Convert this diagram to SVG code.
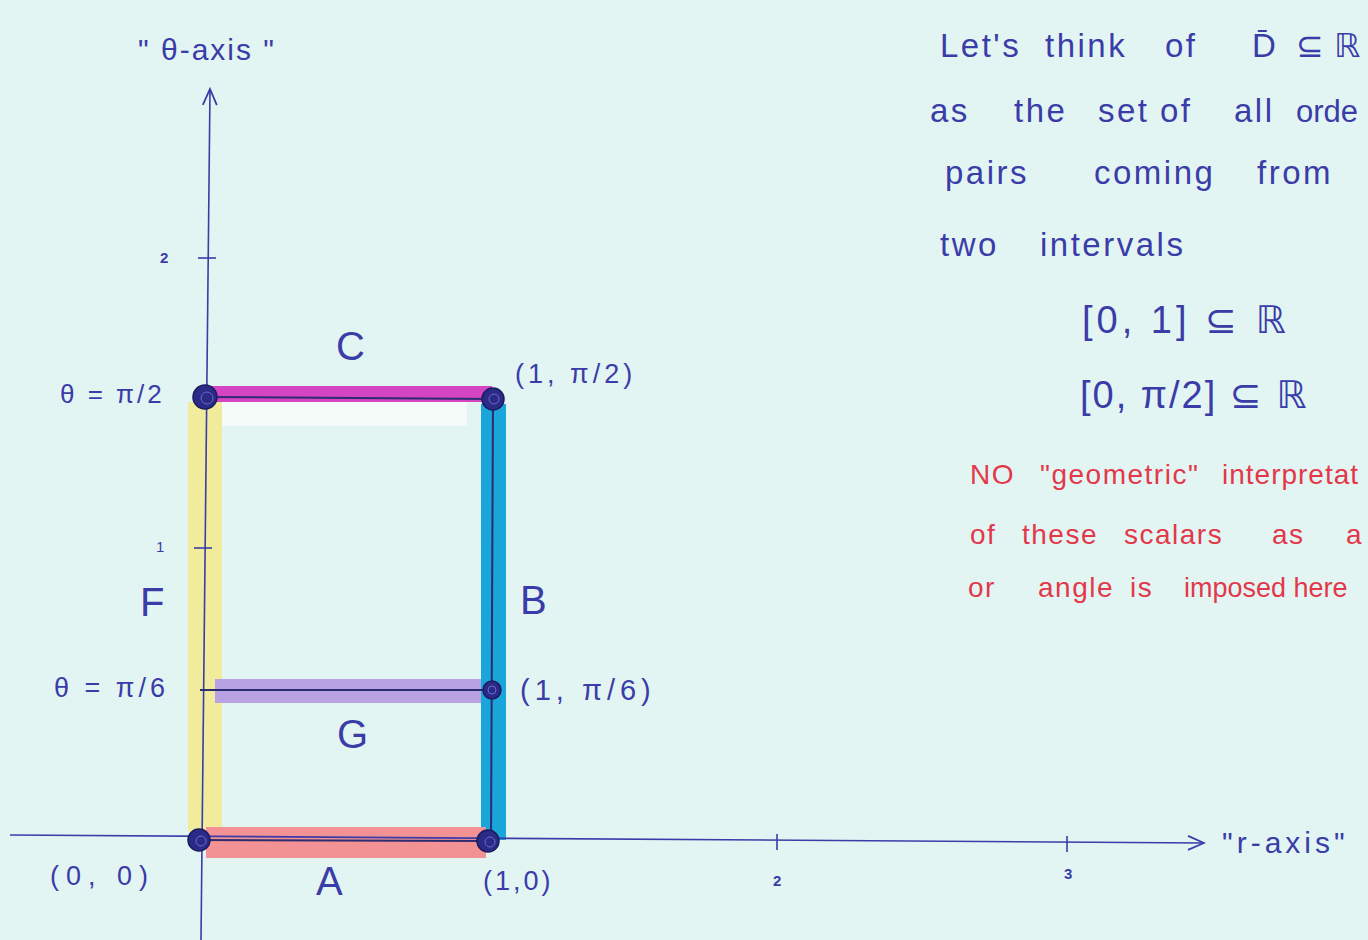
<svg xmlns="http://www.w3.org/2000/svg" width="1368" height="940" viewBox="0 0 1368 940">
<defs>
<style>
.ink{fill:#3a3ca8;font-family:"Liberation Sans","DejaVu Sans",sans-serif;}
.red{fill:#e2384a;font-family:"Liberation Sans","DejaVu Sans",sans-serif;}
.ax{stroke:#3a3ca8;stroke-width:1.6;fill:none;}
.thin{stroke:#2c2c70;stroke-width:2;fill:none;}
.dot{fill:#2b2a86;stroke:#1c1c60;stroke-width:1.5;}
.dotin{fill:none;stroke:#6a6ad0;stroke-width:1;}
</style>
<marker id="arr" viewBox="0 0 20 20" refX="18" refY="10" markerWidth="20" markerHeight="20" markerUnits="userSpaceOnUse" orient="auto">
<path d="M2,3 L18,10 L2,17" fill="none" stroke="#3a3ca8" stroke-width="1.8"/>
</marker>
</defs>
<rect width="1368" height="940" fill="#e3f5f3"/>

<g id="bands">
<rect x="209" y="402" width="258" height="24" fill="#f4fbf8"/>
<rect x="188" y="402" width="34" height="430" fill="#f1ec9c"/>
<rect x="204" y="386" width="288" height="16" fill="#d445c4"/>
<rect x="481" y="404" width="25" height="436" fill="#1aa6da"/>
<rect x="215" y="679" width="266" height="24" fill="#b9a2e2"/>
<rect x="206" y="827" width="280" height="31" fill="#f29294"/>
</g>

<g id="connectors">
<line class="ax" x1="201" y1="940" x2="210" y2="89" marker-end="url(#arr)"/>
<line class="ax" x1="10" y1="835" x2="1204" y2="843" marker-end="url(#arr)"/>
<line class="ax" x1="198" y1="258" x2="216" y2="258"/>
<line class="ax" x1="194" y1="548" x2="212" y2="548"/>
<line class="ax" x1="777" y1="834" x2="777" y2="850"/>
<line class="ax" x1="1067" y1="836" x2="1067" y2="852"/>
<line class="thin" x1="205" y1="397" x2="493" y2="399"/>
<line class="thin" x1="200" y1="690" x2="492" y2="690"/>
<line class="thin" x1="199" y1="840" x2="488" y2="841"/>
<line class="thin" x1="493" y1="399" x2="491" y2="841"/>
</g>

<g id="p00"><circle class="dot" cx="199" cy="840" r="11"/><circle class="dotin" cx="201" cy="841" r="5"/></g>
<g id="p10"><circle class="dot" cx="488" cy="841" r="11"/><circle class="dotin" cx="490" cy="842" r="5"/></g>
<g id="p0pi2"><circle class="dot" cx="205" cy="397" r="12"/><circle class="dotin" cx="207" cy="398" r="6"/></g>
<g id="p1pi2"><circle class="dot" cx="493" cy="399" r="11"/><circle class="dotin" cx="494" cy="399" r="5"/></g>
<g id="p1pi6"><circle class="dot" cx="492" cy="690" r="9"/><circle class="dotin" cx="492" cy="690" r="4"/></g>

<g id="axis-labels">
<text class="ink" x="138" y="60" font-size="30" letter-spacing="2">" θ-axis "</text>
<text class="ink" x="1222" y="853" font-size="30" letter-spacing="4">"r-axis"</text>
<text class="ink" x="160" y="263" font-size="15" font-weight="bold">2</text>
<text class="ink" x="156" y="552" font-size="15">1</text>
<text class="ink" x="773" y="886" font-size="15" font-weight="bold">2</text>
<text class="ink" x="1064" y="879" font-size="15" font-weight="bold">3</text>
</g>

<g id="point-labels">
<text class="ink" x="60" y="403" font-size="26" letter-spacing="3">θ = π/2</text>
<text class="ink" x="54" y="697" font-size="27" letter-spacing="4">θ = π/6</text>
<text class="ink" x="515" y="383" font-size="27" letter-spacing="4">(1, π/2)</text>
<text class="ink" x="520" y="700" font-size="29" letter-spacing="5">(1, π/6)</text>
<text class="ink" x="50" y="885" font-size="27" letter-spacing="7">(0, 0)</text>
<text class="ink" x="483" y="890" font-size="27" letter-spacing="3">(1,0)</text>
</g>

<g id="edge-labels">
<text class="ink" x="336" y="360" font-size="40">C</text>
<text class="ink" x="520" y="614" font-size="40">B</text>
<text class="ink" x="140" y="616" font-size="40">F</text>
<text class="ink" x="337" y="748" font-size="40">G</text>
<text class="ink" x="316" y="895" font-size="40">A</text>
</g>

<g id="note-blue" font-size="33" letter-spacing="2.5">
<text class="ink" y="57"><tspan x="940">Let's</tspan><tspan x="1045">think</tspan><tspan x="1165">of</tspan><tspan x="1252">D̄</tspan><tspan x="1296">⊆</tspan><tspan x="1334">ℝ</tspan></text>
<text class="ink" y="122"><tspan x="930">as</tspan><tspan x="1014">the</tspan><tspan x="1098">set</tspan><tspan x="1160">of</tspan><tspan x="1234">all</tspan><tspan x="1296" letter-spacing="0" font-size="31">orde</tspan></text>
<text class="ink" y="184"><tspan x="945">pairs</tspan><tspan x="1094">coming</tspan><tspan x="1257">from</tspan></text>
<text class="ink" y="256"><tspan x="940">two</tspan><tspan x="1040">intervals</tspan></text>
<text class="ink" x="1082" y="333" font-size="38" letter-spacing="4">[0, 1] ⊆ ℝ</text>
<text class="ink" x="1080" y="408" font-size="38" letter-spacing="2">[0, π/2] ⊆ ℝ</text>
</g>

<g id="note-red" font-size="28" letter-spacing="1.5">
<text class="red" y="484"><tspan x="970">NO</tspan><tspan x="1040">"geometric"</tspan><tspan x="1222" letter-spacing="1">interpretat</tspan></text>
<text class="red" y="544"><tspan x="970">of</tspan><tspan x="1022">these</tspan><tspan x="1124">scalars</tspan><tspan x="1272">as</tspan><tspan x="1346">a</tspan></text>
<text class="red" y="597"><tspan x="968">or</tspan><tspan x="1038">angle</tspan><tspan x="1130">is</tspan><tspan x="1184" letter-spacing="0" font-size="27">imposed here</tspan></text>
</g>
</svg>
